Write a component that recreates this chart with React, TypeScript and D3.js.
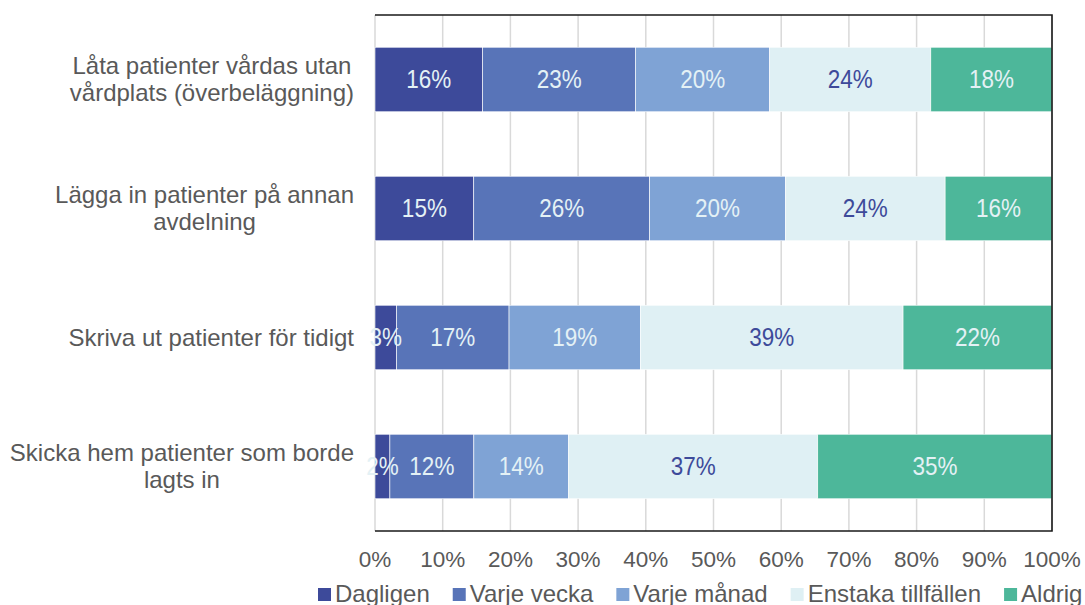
import React, { useEffect, useRef } from "react";
import * as d3 from "d3";

const categories: string[][] = [
  ["Låta patienter vårdas utan", "vårdplats (överbeläggning)"],
  ["Lägga in patienter på annan", "avdelning"],
  ["Skriva ut patienter för tidigt"],
  ["Skicka hem patienter som borde", "lagts in"],
];
const seriesNames = ["Dagligen", "Varje vecka", "Varje månad", "Enstaka tillfällen", "Aldrig"];
const dagligen = [15.9, 14.6, 3.2, 2.2];
const varjeVecka = [22.6, 26.0, 16.6, 12.4];
const varjeManad = [19.8, 20.1, 19.4, 14.0];
const enstaka = [23.8, 23.6, 38.8, 36.8];
const aldrig = [17.9, 15.8, 22.0, 34.6];
const seriesValues = [dagligen, varjeVecka, varjeManad, enstaka, aldrig];
const colors = ["#3D4A9A", "#5874B8", "#7FA3D5", "#DFF0F4", "#4DB79A"];
const labelColors = ["#E4F1F5", "#E4F1F5", "#E4F1F5", "#3D4A9A", "#E4F1F5"];
const tickValues = [0, 0.1, 0.2, 0.3, 0.4, 0.5, 0.6, 0.7, 0.8, 0.9, 1];

const W = 1085;
const H = 605;
const FONT = "'Liberation Sans', Arial, sans-serif";

export default function App() {
  const ref = useRef<SVGSVGElement>(null);

  useEffect(() => {
    const svg = d3.select(ref.current);
    svg.selectAll("*").remove();

    const left = 375, right = 1052, top = 15, bottom = 531;
    const keys = categories.map((c) => c.join(" "));
    const rows = keys.map((k, i) => {
      const r: any = { key: k };
      seriesNames.forEach((s, j) => (r[s] = seriesValues[j][i]));
      return r;
    });
    const stacked = d3.stack<any>().keys(seriesNames).offset(d3.stackOffsetExpand)(rows);

    const x = d3.scaleLinear().domain([0, 1]).range([left, right]);
    const y = d3.scaleBand().domain(keys).range([top, bottom]).paddingInner(0.5).paddingOuter(0.25);

    // gridlines
    svg.append("g")
      .selectAll("line")
      .data(tickValues)
      .join("line")
      .attr("x1", (d) => x(d))
      .attr("x2", (d) => x(d))
      .attr("y1", top)
      .attr("y2", bottom)
      .attr("stroke", "#D9D9D9")
      .attr("stroke-width", 1.5);

    // bars
    const g = svg.append("g");
    stacked.forEach((s, si) => {
      g.append("g")
        .selectAll("rect")
        .data(s)
        .join("rect")
        .attr("x", (d) => x(d[0]))
        .attr("width", (d) => x(d[1]) - x(d[0]))
        .attr("y", (d: any) => y(d.data.key)!)
        .attr("height", y.bandwidth())
        .attr("fill", colors[si])
        .attr("stroke", "#ffffff")
        .attr("stroke-width", 0.6);
    });
    // data labels (slightly tall glyphs as in the reference)
    stacked.forEach((s, si) => {
      g.append("g")
        .selectAll("text")
        .data(s)
        .join("text")
        .attr(
          "transform",
          (d: any) =>
            `translate(${(x(d[0]) + x(d[1])) / 2},${y(d.data.key)! + y.bandwidth() / 2 + 8.8}) scale(1,1.12)`
        )
        .attr("text-anchor", "middle")
        .attr("font-family", FONT)
        .attr("font-size", 22.5)
        .attr("fill", labelColors[si])
        .text((d: any) => Math.round(d.data[seriesNames[si]]) + "%");
    });

    // border (top, right, bottom)
    svg.append("path")
      .attr("d", `M${left},${top}H${right}V${bottom}H${left}`)
      .attr("fill", "none")
      .attr("stroke", "#1a1a1a")
      .attr("stroke-width", 1.6);

    // x tick labels
    svg.append("g")
      .selectAll("text")
      .data(tickValues)
      .join("text")
      .attr("x", (d) => x(d))
      .attr("y", 567)
      .attr("text-anchor", "middle")
      .attr("font-family", FONT)
      .attr("font-size", 22.5)
      .attr("fill", "#595959")
      .text((d) => d3.format(".0%")(d));

    // category labels
    const labelRight = 354;
    categories.forEach((lines, i) => {
      const cy = y(keys[i])! + y.bandwidth() / 2;
      const grp = svg.append("g");
      const texts = lines.map((ln) =>
        grp.append("text")
          .attr("font-family", FONT)
          .attr("font-size", 24)
          .attr("fill", "#595959")
          .attr("text-anchor", "middle")
          .text(ln)
      );
      const widths = texts.map((t) => (t.node() as SVGTextElement).getComputedTextLength());
      const maxW = Math.max(...widths);
      const cx = labelRight - maxW / 2;
      const lh = 27;
      texts.forEach((t, li) => {
        const off = (li - (lines.length - 1) / 2) * lh;
        t.attr("x", cx).attr("y", cy + off + 8.4);
      });
    });

    // legend
    let lx = 318;
    const ly = 588;
    seriesNames.forEach((name, i) => {
      svg.append("rect")
        .attr("x", lx)
        .attr("y", ly)
        .attr("width", 13)
        .attr("height", 13)
        .attr("fill", colors[i]);
      const t = svg.append("text")
        .attr("x", lx + 17)
        .attr("y", ly + 13.5)
        .attr("font-family", FONT)
        .attr("font-size", 24)
        .attr("fill", "#595959")
        .text(name);
      const w = (t.node() as SVGTextElement).getComputedTextLength();
      lx = lx + 17 + w + 23;
    });
  }, []);

  return (
    <svg
      ref={ref}
      width={W}
      height={H}
      style={{ position: "absolute", left: 0, top: 0, background: "#fff" }}
    />
  );
}
